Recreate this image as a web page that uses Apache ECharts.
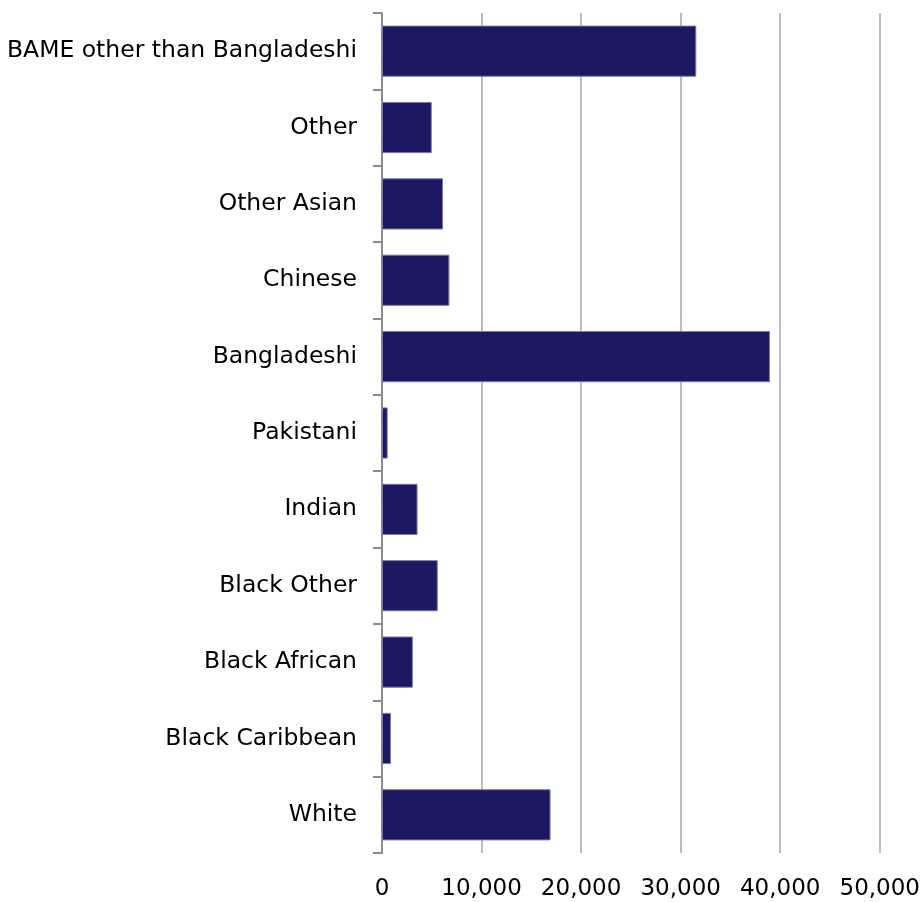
<!DOCTYPE html>
<html><head><meta charset="utf-8">
<script src="https://cdn.jsdelivr.net/npm/echarts@6/dist/echarts.min.js"></script>
<style>html,body{margin:0;padding:0;background:#fff}#c{width:923px;height:902px}</style>
</head><body><div id="c"></div>
<script>
const categories = ["White","Black Caribbean","Black African","Black Other","Indian","Pakistani","Bangladeshi","Chinese","Other Asian","Other","BAME other than Bangladeshi"];
const values = [16930, 900, 3100, 5600, 3570, 570, 38970, 6770, 6130, 5000, 31570];
const xTicks = [0, 10000, 20000, 30000, 40000, 50000];

const chart = echarts.init(document.getElementById('c'));
const font = 'DejaVu Sans';
chart.setOption({
  animation: false,
  grid: {left: 382, right: 41, top: 13, bottom: 49, containLabel: false},
  xAxis: {
    type: 'value', min: xTicks[0], max: xTicks[xTicks.length-1], interval: 10000,
    axisLine: {show: false}, axisTick: {show: false},
    splitLine: {show: true, lineStyle: {color: '#bdbdbd', width: 2}},
    axisLabel: {margin: 25, color: '#000', fontSize: 23, fontFamily: font,
      formatter: v => v.toLocaleString('en-US')}
  },
  yAxis: {
    type: 'category', data: categories,
    axisLine: {show: true, lineStyle: {color: '#8c8c8c', width: 2}},
    axisTick: {show: true, length: 9, lineStyle: {color: '#8c8c8c', width: 2}},
    axisLabel: {margin: 25, color: '#000', fontSize: 23.5, fontFamily: font}
  },
  series: [{
    type: 'bar', data: values, barWidth: '67%',
    itemStyle: {color: '#1c1862', borderColor: '#7a78a8', borderWidth: 1}
  }]
});
</script></body></html>
